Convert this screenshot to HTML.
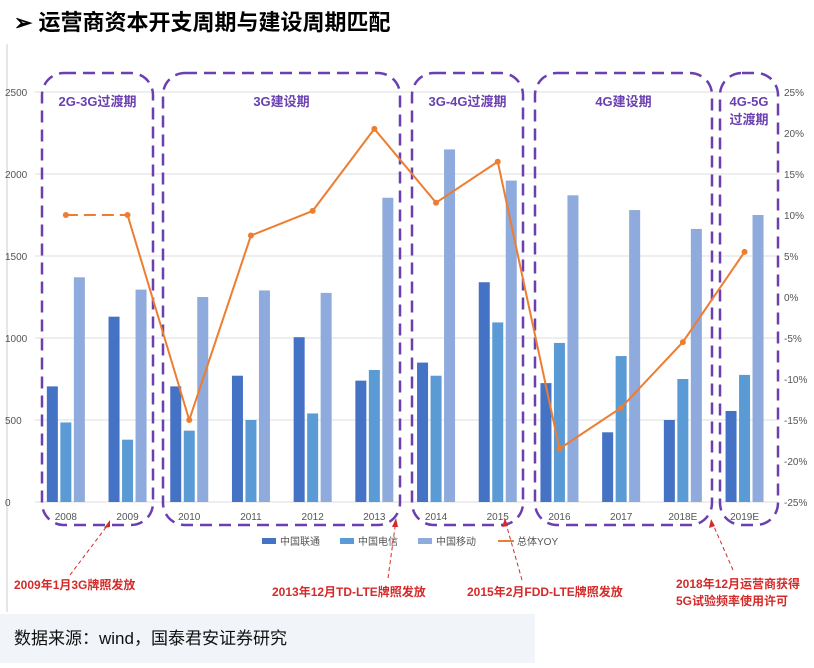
<!DOCTYPE html>
<html><head><meta charset="utf-8"><style>
body{margin:0;width:814px;height:663px;background:#fff;overflow:hidden;font-family:"Liberation Sans","Noto Sans CJK SC",sans-serif}
</style></head><body>
<svg width="814" height="663" xmlns="http://www.w3.org/2000/svg">
<rect x="0" y="0" width="814" height="663" fill="#fff"/>
<text x="14" y="30" font-size="22" font-weight="bold" fill="#000" font-family="Liberation Sans,Noto Sans CJK SC,sans-serif">➢ 运营商资本开支周期与建设周期匹配</text>
<line x1="7" y1="44" x2="7" y2="612" stroke="#ccc"/>
<rect x="0" y="614" width="535" height="49" fill="#f1f4f9"/>
<text x="14" y="644" font-size="17" fill="#111" font-family="Liberation Sans,Noto Sans CJK SC,sans-serif">数据来源：wind，国泰君安证券研究</text>
<g id="grid"></g><g id="bars"></g><g id="boxes"></g><g id="line"></g><g id="ann"></g>
<g stroke="#d42a2a" stroke-dasharray="4 3" fill="none">
<line x1="70" y1="575" x2="110" y2="522"/>
<line x1="388" y1="578" x2="396" y2="520"/>
<line x1="522" y1="580" x2="505" y2="520"/>
<line x1="733" y1="570" x2="712" y2="522"/>
</g>
<g fill="#d42a2a">
<polygon points="110,520 104,528 110,527"/>
<polygon points="396,518 392,527 398,527"/>
<polygon points="505,518 502,527 508,526"/>
<polygon points="711,519 709,528 715,526"/>
</g>
<g font-family="Liberation Sans,Noto Sans CJK SC,sans-serif" font-size="12" font-weight="bold" fill="#d42a2a">
<text x="14" y="589">2009年1月3G牌照发放</text>
<text x="272" y="596">2013年12月TD-LTE牌照发放</text>
<text x="467" y="596">2015年2月FDD-LTE牌照发放</text>
<text x="676" y="588">2018年12月运营商获得</text>
<text x="676" y="605">5G试验频率使用许可</text>
</g>
</svg>
<script>
const categories=["2008","2009","2010","2011","2012","2013","2014","2015","2016","2017","2018E","2019E"];
const unicom=[705,1130,705,770,1005,740,850,1340,725,425,500,555];
const telecom=[485,380,435,500,540,805,770,1095,970,890,750,775];
const mobile=[1370,1295,1250,1290,1275,1855,2150,1960,1870,1780,1665,1750];
const yoy=[10,10,-15,7.5,10.5,20.5,11.5,16.5,-18.5,-13.5,-5.5,5.5];
const leftTicks=[0,500,1000,1500,2000,2500];
const rightTicks=[25,20,15,10,5,0,-5,-10,-15,-20,-25];
const NS="http://www.w3.org/2000/svg";
const x0=35,step=61.7,yTop=92,yBot=502;
const cx=i=>x0+step*(i+0.5);
const yL=v=>yBot-(v/2500)*(yBot-yTop);
const yR=p=>yBot-((p+25)/50)*(yBot-yTop);
function mk(parent,tag,attrs){const e=document.createElementNS(NS,tag);for(const k in attrs)e.setAttribute(k,attrs[k]);document.getElementById(parent).appendChild(e);return e;}
const F="Liberation Sans,Noto Sans CJK SC,sans-serif";
leftTicks.forEach(v=>{
 const l=mk("grid","line",{x1:x0,x2:778,y1:yL(v),y2:yL(v),stroke:"#dcdcdc"});
 
 
 const t=mk("grid","text",{x:5,y:yL(v)+4,"font-size":10,fill:"#555","font-family":F});t.textContent=v;
 
 
});
rightTicks.forEach(p=>{
 const t=mk("grid","text",{x:784,y:yR(p)+4,"font-size":10,fill:"#555","font-family":F});t.textContent=p+"%";
 
 
});
const cols=["#4472c4","#5b9bd5","#8faadc"];
[unicom,telecom,mobile].forEach((s,k)=>{
 s.forEach((v,i)=>{
  const b=mk("bars","rect",{x:cx(i)+(k-1)*13.5-5.5,y:yL(v),width:11,height:yBot-yL(v),fill:cols[k]});
  
  
 });
});
categories.forEach((c,i)=>{
 const t=mk("grid","text",{x:cx(i),y:520,"font-size":10,fill:"#555","text-anchor":"middle","font-family":F});t.textContent=c;
 
 
});
const boxes=[[42,153,"2G-3G过渡期"],[163,400,"3G建设期"],[412,523,"3G-4G过渡期"],[535,712,"4G建设期"],[720,778,"4G-5G|过渡期"]];
boxes.forEach(b=>{
 const r=mk("boxes","rect",{x:b[0],y:73,width:b[1]-b[0],height:452,rx:22,fill:"none",stroke:"#6a3fb0","stroke-width":2.5,"stroke-dasharray":"12 7"});
 
 
 b[2].split("|").forEach((s,j)=>{
  const t=mk("boxes","text",{x:(b[0]+b[1])/2,y:106+j*18,"font-size":13,"font-weight":"bold",fill:"#6a3fb0","text-anchor":"middle","font-family":F});t.textContent=s;
  
  
 });
});
const d1=mk("line","line",{x1:cx(0),y1:yR(yoy[0]),x2:cx(1),y2:yR(yoy[1]),stroke:"#ed7d31","stroke-width":2,"stroke-dasharray":"12 6"});


const pts=yoy.slice(1).map((p,i)=>cx(i+1)+","+yR(p)).join(" ");
const pl=mk("line","polyline",{points:pts,fill:"none",stroke:"#ed7d31","stroke-width":2});


yoy.forEach((p,i)=>{
 const c=mk("line","circle",{cx:cx(i),cy:yR(p),r:3,fill:"#ed7d31"});
 
 
});
const leg=[["中国联通",cols[0],262],["中国电信",cols[1],340],["中国移动",cols[2],418]];
leg.forEach(l=>{
 const r=mk("ann","rect",{x:l[0]?l[2]:0,y:538,width:14,height:6,fill:l[1]});
 
 
 const t=mk("ann","text",{x:l[2]+18,y:545,"font-size":10,fill:"#555","font-family":F});t.textContent=l[0];
 
 
});
const ll=mk("ann","line",{x1:498,x2:514,y1:541,y2:541,stroke:"#ed7d31","stroke-width":2});


const lt=mk("ann","text",{x:517,y:545,"font-size":10,fill:"#555","font-family":F});lt.textContent="总体YOY";


</script>
</body></html>
